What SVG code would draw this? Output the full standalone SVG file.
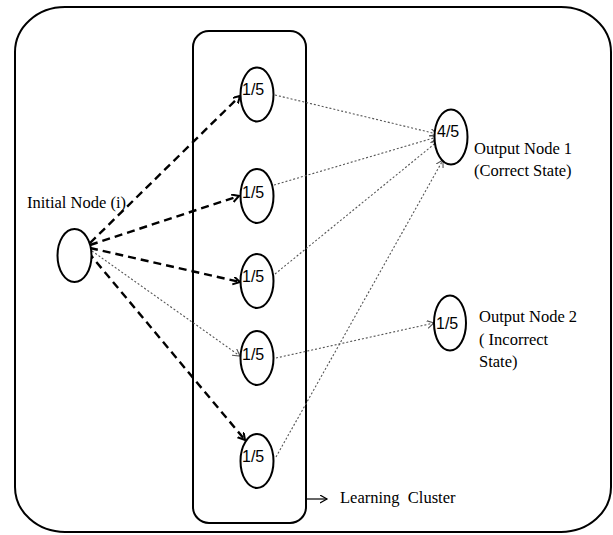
<svg xmlns="http://www.w3.org/2000/svg" width="613" height="535" viewBox="0 0 613 535">
<style>
.frame{fill:none;stroke:#000;stroke-width:2}
.node{fill:#fff;stroke:#000;stroke-width:2}
.num{font-family:"Liberation Sans",Arial,sans-serif;font-size:16px;fill:#000}
.lbl{font-family:"Liberation Serif","Times New Roman",serif;font-size:16.5px;fill:#000}
.dash{fill:none;stroke:#000;stroke-width:2.4;stroke-dasharray:8,5;marker-end:url(#ah)}
.dot{fill:none;stroke:#555;stroke-width:1.1;stroke-dasharray:2,2;marker-end:url(#ahg)}
</style>
<defs>
<marker id="ah" markerWidth="10" markerHeight="10" refX="7" refY="4" orient="auto" markerUnits="userSpaceOnUse">
<path d="M0,0 L7,4 L0,8" fill="none" stroke="#000" stroke-width="2"/>
</marker>
<marker id="ahg" markerWidth="10" markerHeight="10" refX="7" refY="4" orient="auto" markerUnits="userSpaceOnUse">
<path d="M0,0 L7,4 L0,8" fill="none" stroke="#555" stroke-width="1.1"/>
</marker>
<marker id="ahk" markerWidth="10" markerHeight="10" refX="7" refY="4" orient="auto" markerUnits="userSpaceOnUse">
<path d="M0,0 L7,4 L0,8" fill="none" stroke="#000" stroke-width="1.2"/>
</marker>
</defs>
<rect width="613" height="535" fill="#fff"/>
<rect class="frame" x="15" y="7" width="596" height="525" rx="50" ry="45"/>
<g id="cluster">
<rect class="frame" x="193" y="31" width="113" height="492" rx="16" ry="16"/>
<line x1="306" y1="499" x2="327" y2="499" stroke="#000" stroke-width="1.2" marker-end="url(#ahk)"/>
<text class="lbl" x="340" y="503" xml:space="preserve">Learning  Cluster</text>
</g>
<g id="connectors">
<path class="dash" d="M90,243 L240,96"/>
<path class="dash" d="M90,245 L239,196"/>
<path class="dash" d="M90,248 L240,282"/>
<path class="dot" d="M92,251 L240,356"/>
<path class="dash" d="M88,252 L245,440"/>
<path class="dot" d="M275,95 L437,134"/>
<path class="dot" d="M274,185 L437,137"/>
<path class="dot" d="M275,274 L438,141"/>
<path class="dot" d="M276,358 L434,323"/>
<path class="dot" d="M276,457 L443,160"/>
</g>
<g id="initial">
<ellipse class="node" cx="74.5" cy="255.5" rx="17" ry="26.5"/>
<text class="lbl" x="27" y="208">Initial Node (i)</text>
</g>
<g id="c1"><ellipse class="node" cx="257" cy="94.5" rx="16.5" ry="27"/><text class="num" x="242" y="95">1/5</text></g>
<g id="c2"><ellipse class="node" cx="257" cy="196" rx="16.5" ry="27"/><text class="num" x="242" y="198">1/5</text></g>
<g id="c3"><ellipse class="node" cx="257" cy="281" rx="16.5" ry="27"/><text class="num" x="242" y="282">1/5</text></g>
<g id="c4"><ellipse class="node" cx="257" cy="358" rx="16.5" ry="27"/><text class="num" x="242" y="360">1/5</text></g>
<g id="c5"><ellipse class="node" cx="257" cy="461" rx="16.5" ry="27"/><text class="num" x="242" y="462">1/5</text></g>
<g id="out1">
<ellipse class="node" cx="451" cy="137" rx="16.5" ry="27.5"/>
<text class="num" x="437" y="137">4/5</text>
<text class="lbl" x="474" y="154">Output Node 1</text>
<text class="lbl" x="474" y="176">(Correct State)</text>
</g>
<g id="out2">
<ellipse class="node" cx="450" cy="323" rx="16" ry="27.5"/>
<text class="num" x="436" y="329">1/5</text>
<text class="lbl" x="479" y="322">Output Node 2</text>
<text class="lbl" x="479" y="345">( Incorrect</text>
<text class="lbl" x="479" y="367">State)</text>
</g>
</svg>
